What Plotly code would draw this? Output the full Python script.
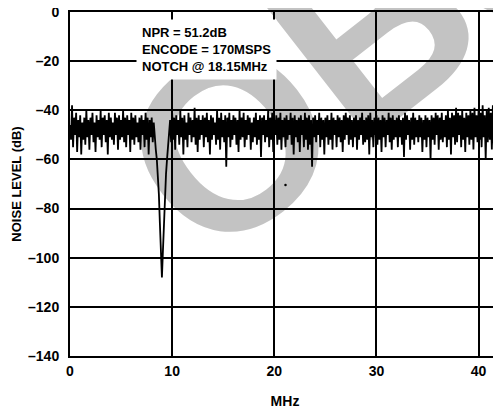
import base64
import plotly.graph_objects as go

# Noise spectrum, one reading every 0.1 MHz starting at 0 MHz
noise_db = [
    -46, -52, -38, -55, -43, -50, -41, -57, -44, -51,
    -42, -58, -45, -52, -43, -54, -40, -51, -44, -56,
    -43, -50, -41, -53, -45, -57, -42, -51, -44, -52,
    -40, -55, -43, -50, -42, -53, -44, -58, -41, -51,
    -43, -52, -45, -54, -41, -50, -43, -56, -42, -52,
    -44, -51, -40, -53, -43, -55, -42, -50, -44, -57,
    -41, -52, -43, -54, -42, -51, -45, -53, -43, -56,
    -42, -50, -44, -55, -41, -52, -43, -58, -44, -51,
    -43, -53, -45, -52, -56, -60, -66, -74, -86, -100,
    -108, -97, -85, -74, -66, -60, -55, -50, -44, -53,
    -41, -52, -43, -56, -42, -50, -44, -54, -40, -51,
    -43, -58, -42, -52, -45, -55, -41, -50, -43, -53,
    -44, -51, -39, -54, -43, -57, -42, -52, -44, -50,
    -42, -55, -43, -51, -41, -53, -44, -58, -42, -52,
    -43, -50, -45, -54, -40, -52, -43, -56, -41, -51,
    -44, -53, -42, -63, -43, -51, -41, -55, -44, -52,
    -42, -50, -43, -54, -44, -57, -40, -52, -43, -51,
    -41, -55, -44, -52, -42, -50, -43, -56, -45, -53,
    -43, -51, -41, -54, -44, -52, -42, -59, -43, -50,
    -42, -53, -44, -51, -40, -55, -43, -52, -41, -57,
    -44, -50, -42, -54, -43, -52, -41, -56, -44, -51,
    -43, -55, -42, -52, -44, -50, -41, -54, -43, -58,
    -42, -51, -44, -53, -43, -57, -42, -50, -44, -55,
    -41, -52, -43, -56, -42, -54, -44, -63, -43, -51,
    -42, -53, -44, -50, -41, -55, -43, -52, -44, -58,
    -43, -51, -42, -54, -44, -52, -41, -56, -43, -50,
    -44, -55, -42, -51, -43, -53, -44, -57, -42, -52,
    -41, -50, -43, -54, -42, -52, -44, -55, -43, -51,
    -42, -56, -44, -52, -43, -50, -41, -54, -44, -53,
    -43, -52, -42, -58, -41, -51, -44, -55, -43, -50,
    -42, -54, -43, -52, -44, -57, -42, -51, -43, -55,
    -44, -50, -41, -53, -43, -56, -42, -52, -44, -51,
    -43, -55, -42, -51, -44, -54, -43, -59, -41, -52,
    -42, -50, -44, -56, -43, -52, -41, -54, -43, -51,
    -44, -53, -42, -51, -43, -57, -44, -52, -42, -55,
    -43, -51, -44, -60, -42, -52, -43, -54, -41, -50,
    -42, -56, -43, -52, -41, -53, -44, -51, -42, -55,
    -40, -52, -43, -58, -41, -51, -42, -54, -39, -53,
    -41, -50, -42, -55, -40, -52, -43, -57, -41, -51,
    -42, -54, -40, -52, -41, -56, -39, -51, -42, -53,
    -40, -52, -41, -55, -38, -51, -42, -60, -40, -53,
    -39, -52, -41, -56, -38, -54, -40, -51, -37, -62,
    -41, -52,
]
freq_start = 0.0
freq_step = 0.1

# stray dot in the scan
dot_mhz = [21.1]
dot_db = [-70.4]

x_ticks = [0, 10, 20, 30, 40]
y_ticks = [0, -20, -40, -60, -80, -100, -120, -140]
y_tick_text = ['0', '–20', '–40', '–60', '–80', '–100', '–120', '–140']

notes = ['NPR = 51.2dB', 'ENCODE = 170MSPS', 'NOTCH @ 18.15MHz']

# the page body keeps its default 8px margin, so the figure is 8px smaller
W, H = 493, 403
ml, mr, mt, mb = 62, 1, 4, 55
pw, ph = W - ml - mr, H - mt - mb

# grey "OBSOLETE" stamp behind the plot (figure pixel coordinates)
stamp = (
    '<svg xmlns="http://www.w3.org/2000/svg" width="%d" height="%d">'
    '<g transform="translate(220,132) rotate(-38)">'
    '<text x="-95" y="88" font-family="Liberation Sans, Arial" font-weight="bold" '
    'font-size="245" fill="#c3c3c3">OBSOLETE</text></g></svg>' % (W, H)
)
stamp_uri = 'data:image/svg+xml;base64,' + base64.b64encode(stamp.encode()).decode()

fig = go.Figure()
fig.add_trace(go.Scatter(
    x0=freq_start, dx=freq_step, y=noise_db,
    mode='lines', line=dict(color='black', width=1.8),
    showlegend=False, hoverinfo='skip'
))
fig.add_trace(go.Scatter(
    x=dot_mhz, y=dot_db, mode='markers',
    marker=dict(color='black', size=2.5),
    showlegend=False, hoverinfo='skip'
))

tick_font = dict(family='Liberation Sans, Arial', size=14, color='black', weight='bold')

fig.update_layout(
    width=W, height=H,
    margin=dict(l=ml, r=mr, t=mt, b=mb, autoexpand=False),
    paper_bgcolor='white',
    plot_bgcolor='rgba(0,0,0,0)',
    font=dict(family='Liberation Sans, Arial', color='black'),
    xaxis=dict(
        range=[0, 42.1], tickvals=x_ticks, tickfont=tick_font, automargin=False,
        ticklabeloverflow='allow',
        showgrid=True, gridcolor='black', gridwidth=1.5, zeroline=False,
        showline=True, linecolor='black', linewidth=2, mirror=True,
        ticks='outside', ticklen=1, tickcolor='rgba(0,0,0,0)',
        title=dict(text='MHz', font=dict(size=14, weight='bold'), standoff=18),
    ),
    yaxis=dict(
        range=[-140, 0], tickvals=y_ticks, ticktext=y_tick_text, tickfont=tick_font,
        automargin=False, ticklabeloverflow='allow',
        showgrid=True, gridcolor='black', gridwidth=1.5, zeroline=False,
        showline=True, linecolor='black', linewidth=2, mirror=True,
        ticks='outside', ticklen=6, tickcolor='rgba(0,0,0,0)',
        title=dict(text='NOISE LEVEL (dB)', font=dict(size=13, weight='bold'), standoff=3),
    ),
    images=[dict(
        source=stamp_uri, xref='paper', yref='paper',
        x=-ml / pw, y=1 + mt / ph, sizex=W / pw, sizey=H / ph,
        xanchor='left', yanchor='top', sizing='stretch', layer='below'
    )],
    annotations=[dict(
        x=6.5, y=-2.9, xref='x', yref='y', xanchor='left', yanchor='top',
        text='<br>'.join(notes), align='left', showarrow=False,
        font=dict(size=13, color='black', weight='bold'),
        bgcolor='white', borderpad=5
    )],
)

fig.write_html('out.html')
